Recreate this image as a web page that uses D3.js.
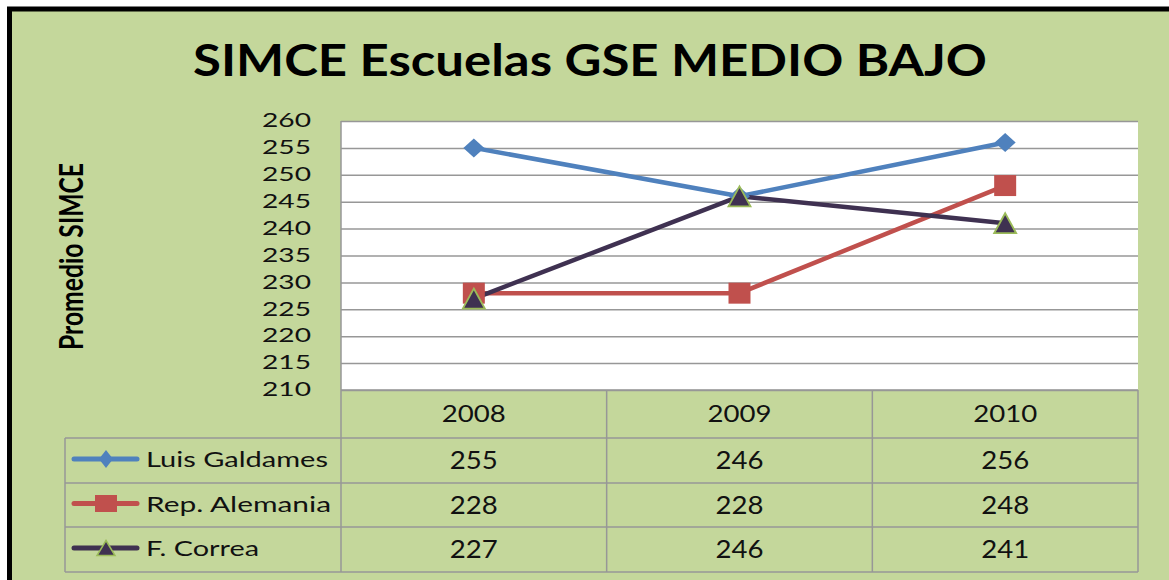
<!DOCTYPE html>
<html><head><meta charset="utf-8">
<script src="https://cdn.jsdelivr.net/npm/d3@7"></script>
<style>body{margin:0;background:#fff;}svg{display:block;}</style>
</head><body>
<svg id="c" width="1169" height="580"></svg>
<script>
const title = "SIMCE Escuelas GSE MEDIO BAJO";
const yLabel = "Promedio SIMCE";
const years = ["2008", "2009", "2010"];
const seriesNames = ["Luis Galdames", "Rep. Alemania", "F. Correa"];
const luisGaldames = [255, 246, 256];
const repAlemania = [228, 228, 248];
const fCorrea = [227, 246, 241];
const yTicks = [210, 215, 220, 225, 230, 235, 240, 245, 250, 255, 260];

const seriesValues = [luisGaldames, repAlemania, fCorrea];
const colors = ["#4F81BD", "#C0504D", "#3F3151"];
const font = "Lato, 'Open Sans', sans-serif";
const CAP = 0.7165;

// marker path generators (w x h box, centered)
function marker(kind, w, h) {
  const a = w / 2, b = h / 2;
  if (kind === 0) return `M0,${-b}L${a},0L0,${b}L${-a},0Z`;
  if (kind === 1) return `M${-a},${-b}H${a}V${b}H${-a}Z`;
  return `M0,${-b}L${a},${b}L${-a},${b}Z`;
}

const svg = d3.select("#c");
svg.append("rect").attr("width", 1169).attr("height", 580).attr("fill", "#fff");
svg.append("rect").attr("x", 9.5).attr("y", 9).attr("width", 1200).attr("height", 600)
  .attr("fill", "#C4D79B").attr("stroke", "#000").attr("stroke-width", 5);

const L = 341, R = 1138, T = 121, B = 390;
const x = d3.scaleBand().domain(years).range([L, R]);
const cx = d => x(d) + x.bandwidth() / 2;
const y = d3.scaleLinear().domain([210, 260]).range([B, T]);

function txt(g, str, px, base, cap, width, anchor, weight) {
  const fs = cap / CAP;
  const t = g.append("text").attr("x", px).attr("y", base).attr("font-family", font)
    .attr("font-size", fs).attr("font-weight", weight || "normal").attr("fill", "#111")
    .attr("text-anchor", anchor || "start").text(str);
  if (width) t.attr("textLength", width).attr("lengthAdjust", "spacingAndGlyphs");
  return t;
}

// plot area
svg.append("rect").attr("x", L).attr("y", T).attr("width", R - L).attr("height", B - T).attr("fill", "#fff");
const grid = svg.append("g").attr("transform", `translate(${L},0)`)
  .call(d3.axisLeft(y).tickValues(yTicks).tickSize(-(R - L)).tickFormat(""));
grid.select(".domain").remove();
grid.selectAll("line").attr("stroke", "#979797").attr("stroke-width", 1.5);
svg.append("line").attr("x1", L).attr("x2", L).attr("y1", T).attr("y2", B).attr("stroke", "#979797").attr("stroke-width", 1.5);

// y tick labels
const yax = svg.append("g").attr("transform", `translate(311,0)`)
  .call(d3.axisLeft(y).tickValues(yTicks).tickSize(0).tickPadding(0));
yax.select(".domain").remove();
yax.selectAll("text").attr("font-family", font).attr("font-size", 13.4 / CAP).attr("fill", "#111")
  .attr("dy", null).attr("y", 5.7).attr("dx", 0).attr("x", 0)
  .attr("textLength", 49).attr("lengthAdjust", "spacingAndGlyphs");

// title
txt(svg, title, 590, 75.5, 31, 794, "middle", "bold").attr("fill", "#000");

// y label
svg.append("text").attr("transform", "translate(83,256.5) rotate(-90) scale(1,1.3)")
  .attr("text-anchor", "middle").attr("font-family", font).attr("font-weight", "bold")
  .attr("font-size", 24.5).attr("fill", "#000")
  .attr("textLength", 187).attr("lengthAdjust", "spacingAndGlyphs").text(yLabel);

// lines
const line = d3.line().x((d, i) => cx(years[i])).y(d => y(d));
seriesValues.forEach((vals, s) => {
  svg.append("path").datum(vals).attr("d", line).attr("fill", "none")
    .attr("stroke", colors[s]).attr("stroke-width", 4.5).attr("stroke-linejoin", "round");
});
const mSize = [[21, 19], [22, 21], [22, 20]];
seriesValues.forEach((vals, s) => {
  svg.selectAll(null).data(vals).enter().append("path")
    .attr("d", marker(s, mSize[s][0], mSize[s][1]))
    .attr("transform", (d, i) => `translate(${cx(years[i])},${y(d)})`)
    .attr("fill", colors[s]).attr("stroke", s === 2 ? "#9BBB59" : "none").attr("stroke-width", 1.8)
    .attr("stroke-linejoin", "miter");
});

// table
const rowY = [B, 438, 483, 527, 572];
const tbl = svg.append("g").attr("stroke", "#979797").attr("stroke-width", 1.5).attr("fill", "none");
const legL = 65;
tbl.append("line").attr("x1", L).attr("x2", R).attr("y1", rowY[0]).attr("y2", rowY[0]);
for (let r = 1; r < rowY.length; r++) {
  tbl.append("line").attr("x1", legL).attr("x2", R).attr("y1", rowY[r]).attr("y2", rowY[r]);
}
tbl.append("line").attr("x1", legL).attr("x2", legL).attr("y1", rowY[1]).attr("y2", rowY[4]);
[L, ...years.map(d => x(d) + x.bandwidth())].forEach(xx => {
  tbl.append("line").attr("x1", xx).attr("x2", xx).attr("y1", rowY[0]).attr("y2", rowY[4]);
});
years.forEach(yr => txt(svg, yr, cx(yr), 421.7, 17.2, 64, "middle"));

const legMark = [[14, 18], [22, 17], [18, 15]];
const nameW = [182, 185, 113];
seriesValues.forEach((vals, s) => {
  const c = (rowY[s + 1] + rowY[s + 2]) / 2;
  vals.forEach((v, i) => txt(svg, String(v), cx(years[i]), c + 8.8, 17.5, 48, "middle"));
  svg.append("line").attr("x1", 74).attr("x2", 137).attr("y1", c - 1.5).attr("y2", c - 1.5)
    .attr("stroke", colors[s]).attr("stroke-width", 5).attr("stroke-linecap", "round");
  svg.append("path").attr("d", marker(s, legMark[s][0], legMark[s][1]))
    .attr("transform", `translate(106,${c - 1.5})`)
    .attr("fill", colors[s]).attr("stroke", s === 2 ? "#9BBB59" : "none").attr("stroke-width", 1.5);
  txt(svg, seriesNames[s], 146, c + 6.5, 15.5, nameW[s], "start");
});
</script>
</body></html>
